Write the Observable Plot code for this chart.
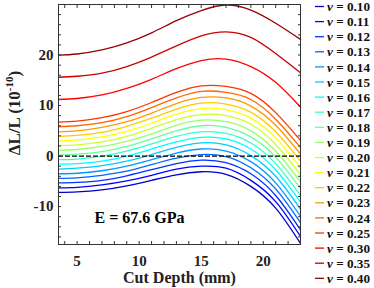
<!DOCTYPE html>
<html><head><meta charset="utf-8">
<script src="https://cdn.jsdelivr.net/npm/d3@7"></script>
<script src="https://cdn.jsdelivr.net/npm/@observablehq/plot@0.6"></script>
<style>body{margin:0;background:#fff} svg{font-family:"Liberation Serif",serif;}</style>
</head><body><div id="chart"></div>
<script>
// Cut depth sample positions (mm)
const cutDepth = [3.5, 5, 7, 9, 11, 13, 15, 17, 19, 21, 23];
// ΔL/L (1e-10) for each Poisson ratio
const nu010 = [-7.2, -7.1, -6.7, -5.9, -4.8, -3.7, -3.1, -3.6, -6.0, -10.3, -17.3];
const nu011 = [-6.3, -6.2, -5.7, -4.9, -3.8, -2.6, -2.0, -2.4, -4.8, -9.0, -15.9];
const nu012 = [-5.3, -5.2, -4.8, -3.9, -2.7, -1.5, -0.8, -1.3, -3.5, -7.8, -14.6];
const nu013 = [-4.4, -4.3, -3.8, -3.0, -1.7, -0.4, 0.3, -0.1, -2.3, -6.5, -13.2];
const nu014 = [-3.5, -3.4, -2.9, -2.0, -0.7, 0.6, 1.4, 1.0, -1.1, -5.3, -11.9];
const nu015 = [-2.6, -2.4, -1.9, -1.0, 0.3, 1.7, 2.6, 2.2, 0.1, -4.0, -10.5];
const nu016 = [-1.6, -1.5, -1.0, 0.0, 1.4, 2.8, 3.7, 3.4, 1.4, -2.7, -9.1];
const nu017 = [-0.7, -0.6, 0.0, 1.0, 2.4, 3.9, 4.8, 4.5, 2.6, -1.5, -7.8];
const nu018 = [0.2, 0.4, 0.9, 1.9, 3.4, 5.0, 6.0, 5.7, 3.8, -0.2, -6.4];
const nu019 = [1.1, 1.3, 1.9, 2.9, 4.4, 6.1, 7.1, 6.8, 5.0, 1.0, -5.1];
const nu020 = [2.1, 2.2, 2.8, 3.9, 5.5, 7.2, 8.2, 8.0, 6.3, 2.3, -3.7];
const nu021 = [3.0, 3.2, 3.8, 4.9, 6.5, 8.3, 9.4, 9.2, 7.5, 3.6, -2.3];
const nu022 = [3.9, 4.1, 4.7, 5.9, 7.5, 9.3, 10.5, 10.3, 8.7, 4.8, -1.0];
const nu023 = [4.8, 5.0, 5.7, 6.8, 8.5, 10.4, 11.6, 11.5, 9.9, 6.1, 0.4];
const nu024 = [5.8, 6.0, 6.6, 7.8, 9.6, 11.5, 12.8, 12.6, 11.2, 7.3, 1.7];
const nu025 = [6.7, 6.9, 7.6, 8.8, 10.6, 12.6, 13.9, 13.8, 12.4, 8.6, 3.1];
const nu030 = [11.2, 11.4, 12.1, 13.4, 15.2, 17.3, 18.9, 19.2, 17.7, 14.6, 9.7];
const nu035 = [15.6, 15.8, 16.4, 17.7, 19.6, 21.8, 23.8, 24.6, 23.5, 20.3, 16.5];
const nu040 = [20.0, 20.2, 21.0, 22.4, 24.4, 26.8, 28.8, 29.9, 28.9, 26.3, 23.1];

const nuLabels = ["0.10","0.11","0.12","0.13","0.14","0.15","0.16","0.17","0.18","0.19",
                  "0.20","0.21","0.22","0.23","0.24","0.25","0.30","0.35","0.40"];
const nuSeries = [nu010, nu011, nu012, nu013, nu014, nu015, nu016, nu017, nu018, nu019,
                  nu020, nu021, nu022, nu023, nu024, nu025, nu030, nu035, nu040];
const colors = ["#0000cc","#0000ff","#0033ff","#0066ff","#0099ff","#00ccff","#00ffff","#33ffcc",
                "#66ff99","#99ff66","#ccff33","#ffff00","#ffcc00","#ff9900","#ff6600","#ff3300",
                "#ff0000","#cc0000","#990000"];
const xTicks = [5, 10, 15, 20];
const yTicks = [-10, 0, 10, 20];
const xMinor = d3.range(4, 24, 1);
const yMinor = d3.range(-16, 31, 2);

const rows = nuLabels.flatMap((nu, i) => cutDepth.map((x, j) => ({nu, x, y: nuSeries[i][j]})));

const axisColor = "#333";
const tickOpts = {tickSize: -3, fill: "none", label: null, stroke: axisColor};
const plot = Plot.plot({
  width: 374, height: 288,
  marginLeft: 58, marginRight: 74, marginTop: 4, marginBottom: 44,
  style: {fontFamily: "Liberation Serif", fontWeight: "bold", fontSize: "15px", background: "white", overflow: "visible"},
  x: {domain: [3.5, 23]},
  y: {domain: [-17.5, 30]},
  color: {domain: nuLabels, range: colors},
  marks: [
    Plot.line(rows, {x: "x", y: "y", z: "nu", stroke: "nu", strokeWidth: 1.3, curve: "natural"}),
    Plot.ruleY([0], {stroke: "#000", strokeDasharray: "5,2", strokeWidth: 1.2}),
    Plot.frame({stroke: axisColor}),
    Plot.axisX(xMinor, {anchor: "bottom", ...tickOpts}),
    Plot.axisX(xMinor, {anchor: "top", ...tickOpts}),
    Plot.axisY(yMinor, {anchor: "left", ...tickOpts}),
    Plot.axisY(yMinor, {anchor: "right", ...tickOpts}),
    Plot.axisX(xTicks, {anchor: "bottom", tickSize: 0, tickPadding: 11, label: null, fill: "#222", tickFormat: d => `${d}`}),
    Plot.axisY(yTicks, {anchor: "left", tickSize: 0, tickPadding: 5, label: null, fill: "#222", tickFormat: d => `${d}`}),
    Plot.text(["Cut Depth (mm)"], {text: d => d, frameAnchor: "bottom", dy: 38, lineAnchor: "bottom", fontSize: 16, fontWeight: "bold", fill: "#222"}),
    Plot.text(["E = 67.6 GPa"], {text: d => d, frameAnchor: "bottom-left", dx: 36, dy: -22, lineAnchor: "bottom", textAnchor: "start", fontSize: 16, fontWeight: "bold", fill: "#000"})
  ]
});
document.getElementById("chart").appendChild(plot);

const svg = d3.select(plot);
// y-axis label with superscript
const yl = svg.append("text")
  .attr("transform", "translate(20,113) rotate(-90)")
  .attr("text-anchor", "middle")
  .attr("font-size", 17).attr("font-weight", "bold").attr("fill", "#222");
yl.append("tspan").text("ΔL/L (10");
yl.append("tspan").attr("font-size", 11).attr("dy", -7).text("-10");
yl.append("tspan").attr("dy", 7).text(")");

// legend
const lg = svg.append("g").attr("text-anchor", "start");
nuLabels.forEach((nu, i) => {
  const y = 6.5 + i * 15.1;
  lg.append("line").attr("x1", 315).attr("x2", 324).attr("y1", y).attr("y2", y)
    .attr("stroke", colors[i]).attr("stroke-width", 1.3);
  const t = lg.append("text").attr("x", 327).attr("y", y).attr("dy", "0.35em")
    .attr("font-size", 13.2).attr("font-weight", "bold").attr("fill", "#111");
  t.append("tspan").attr("font-style", "italic").text("ν");
  t.append("tspan").text(` = ${nu}`);
});
</script>
</body></html>
